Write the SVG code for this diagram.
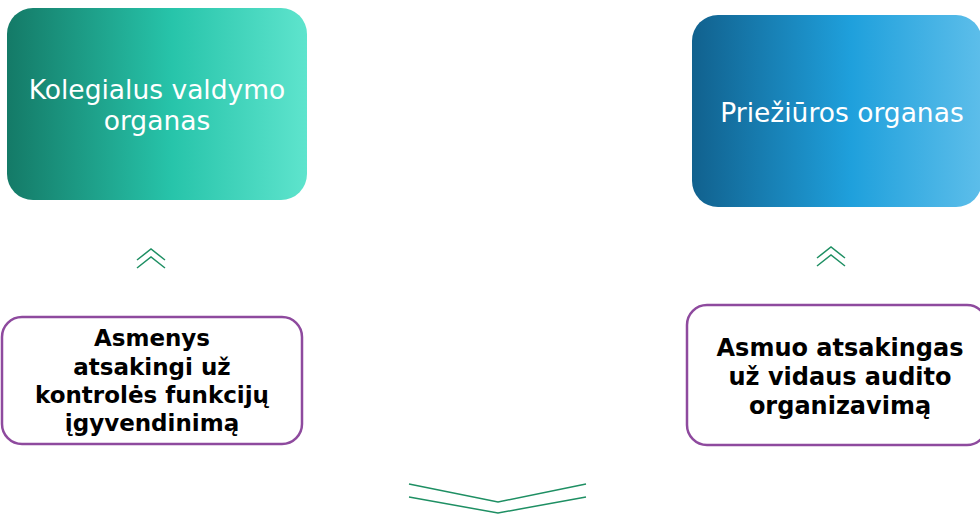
<svg xmlns="http://www.w3.org/2000/svg" width="980" height="514" viewBox="0 0 980 514">
<defs>
<linearGradient id="g1" x1="0" y1="0" x2="1" y2="0"><stop offset="0" stop-color="#147a67"/><stop offset="0.55" stop-color="#27c4aa"/><stop offset="1" stop-color="#5ee4cd"/></linearGradient>
<linearGradient id="g2" x1="0" y1="0" x2="1" y2="0"><stop offset="0" stop-color="#11618e"/><stop offset="0.55" stop-color="#1fa0dc"/><stop offset="1" stop-color="#5dbeea"/></linearGradient>
<style>
.t1{font-family:"DejaVu Sans",Verdana,sans-serif;font-size:26.5px;fill:#ffffff;text-anchor:middle}
.t2{font-family:"DejaVu Sans",Verdana,sans-serif;font-size:23px;font-weight:bold;fill:#000000;text-anchor:middle}
.pb{fill:#ffffff;stroke:#8e4a9e;stroke-width:2.5}
.ch{fill:none;stroke:#1e8f63;stroke-width:1.5}
</style>
</defs>
<g id="kolegialus">
<rect x="7" y="8" width="300" height="192" rx="26" fill="url(#g1)"/>
<text class="t1" x="157" y="99">Kolegialus valdymo</text>
<text class="t1" x="157" y="130">organas</text>
</g>
<g id="prieziuros">
<rect x="692" y="15" width="290" height="192" rx="26" fill="url(#g2)"/>
<text class="t1" x="842" y="122">Priežiūros organas</text>
</g>
<g id="asmenys">
<rect class="pb" x="2" y="317" width="300" height="127" rx="20"/>
<text class="t2" x="152" y="346">Asmenys</text>
<text class="t2" x="152" y="375">atsakingi už</text>
<text class="t2" x="152" y="403">kontrolės funkcijų</text>
<text class="t2" x="152" y="431">įgyvendinimą</text>
</g>
<g id="asmuo">
<rect class="pb" x="687" y="305" width="300" height="140" rx="20"/>
<text class="t2" x="840" y="356" style="font-size:24px">Asmuo atsakingas</text>
<text class="t2" x="840" y="385" style="font-size:24px">už vidaus audito</text>
<text class="t2" x="840" y="414" style="font-size:24px">organizavimą</text>
</g>
<g id="connectors">
<polyline class="ch" points="137,260 151,249 165,260"/>
<polyline class="ch" points="137,268 151,257 165,268"/>
<polyline class="ch" points="817,258 831,247 845,258"/>
<polyline class="ch" points="817,266 831,255 845,266"/>
<polyline class="ch" points="409,484 498,502 586,484"/>
<polyline class="ch" points="409,497 498,513 586,497"/>
</g>
</svg>
